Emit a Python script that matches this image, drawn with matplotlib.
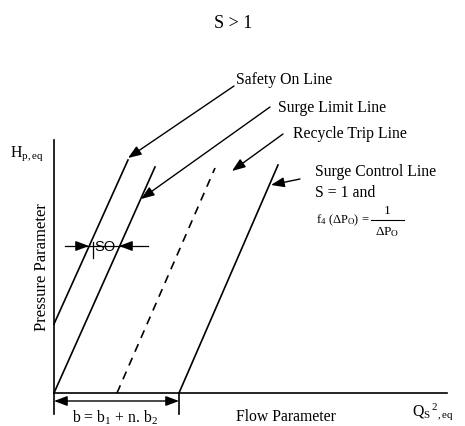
import matplotlib.pyplot as plt

plt.rcParams['font.family'] = ['Liberation Serif', 'DejaVu Serif']
plt.rcParams['mathtext.fontset'] = 'custom'
plt.rcParams['mathtext.rm'] = 'Liberation Serif'
plt.rcParams['mathtext.it'] = 'Liberation Serif:italic'

# -------- DATA (diagram units, origin at axis corner) --------
safety_x = [0, 74]
safety_y = [69, 233]
surge_limit_x = [0, 101]
surge_limit_y = [0, 226]
recycle_x = [63, 161]
recycle_y = [0, 225]
surge_control_x = [125, 224]
surge_control_y = [0, 228]

so_level = 147          # height of the SO dimension
so_ends = [35, 65]      # where it meets the two lines
b_width = 125           # b = b1 + n.b2

labels = ["Safety On Line", "Surge Limit Line", "Recycle Trip Line", "Surge Control Line"]
label_pos = [(182, 314), (224, 286), (239, 260), (261, 222)]
arrow_from = [(180, 307), (216, 286), (229, 259), (246, 214)]
arrow_to = [(74, 235), (87, 194), (178, 222), (217, 208)]

# -------- FIGURE --------
fig = plt.figure(figsize=(4.65, 4.27), dpi=100)
ax = fig.add_axes([0, 0, 1, 1])
ax.set_xlim(-54, 411)
ax.set_ylim(-33, 394)
ax.axis('off')

lw = 1.2
fs = 11.3
# axes lines
ax.plot([0, 0], [-21, 253], color='black', lw=lw)
ax.plot([0, 393], [0, 0], color='black', lw=lw)

# characteristic lines
ax.plot(safety_x, safety_y, color='black', lw=lw)
ax.plot(surge_limit_x, surge_limit_y, color='black', lw=lw)
ax.plot(recycle_x, recycle_y, color='black', lw=lw, dashes=(5, 4))
ax.plot(surge_control_x, surge_control_y, color='black', lw=lw)

arr = dict(arrowstyle='-|>,head_length=0.8,head_width=0.3', color='black',
           lw=1.0, mutation_scale=10, shrinkA=0, shrinkB=0)

# label arrows
for lab, pos, a0, a1 in zip(labels, label_pos, arrow_from, arrow_to):
    ax.text(pos[0], pos[1], lab, fontsize=fs, ha='left', va='center')
    ax.annotate('', xy=a1, xytext=a0, arrowprops=arr)

ax.text(261, 201, "S = 1 and", fontsize=fs, ha='left', va='center')
# f4(dPo) = 1 / dPo, fraction drawn by hand
ax.text(262, 174, r"f$_4$ (ΔP$_\mathrm{O}$) =", fontsize=9, ha='left', va='center')
ax.plot([317, 350], [173, 173], color='black', lw=0.8)
ax.text(333, 183, "1", fontsize=9.5, ha='center', va='center')
ax.text(333, 162, r"ΔP$_\mathrm{O}$", fontsize=9.5, ha='center', va='center')

# SO dimension
ax.plot([11, 94], [so_level, so_level], color='black', lw=0.9)
ax.annotate('', xy=(so_ends[0], so_level), xytext=(so_ends[0] - 12, so_level), arrowprops=arr)
ax.annotate('', xy=(so_ends[1], so_level), xytext=(so_ends[1] + 12, so_level), arrowprops=arr)
ax.plot([39, 39], [135, 151], color='black', lw=0.9)
ax.text(51, so_level, "SO", fontsize=10.5, ha='center', va='center', family='Liberation Sans')

# b dimension
ax.plot([b_width, b_width], [-21, 0], color='black', lw=lw)
ax.annotate('', xy=(0, -8), xytext=(b_width, -8),
            arrowprops=dict(arrowstyle='<|-|>,head_length=0.8,head_width=0.3', color='black',
                            lw=1.0, mutation_scale=10, shrinkA=0, shrinkB=0))
ax.text(61, -24, r"b = b$_1$ + n. b$_2$", fontsize=fs, ha='center', va='center')

# axis labels
ax.text(232, -23, "Flow Parameter", fontsize=fs, ha='center', va='center')
ax.text(-12, 127, "Pressure Parameter", fontsize=12, ha='center', va='center', rotation=90)
ax.text(-44, 240, r"H$_{\mathrm{p,eq}}$", fontsize=fs, ha='left', va='center')
ax.text(358, -18, r"Q$_\mathrm{S}$$^{\,2}$$_{,\mathrm{eq}}$", fontsize=fs, ha='left', va='center')

# title
ax.text(179, 370, "S > 1", fontsize=13, ha='center', va='center')

fig.savefig('out.png', dpi=100)
